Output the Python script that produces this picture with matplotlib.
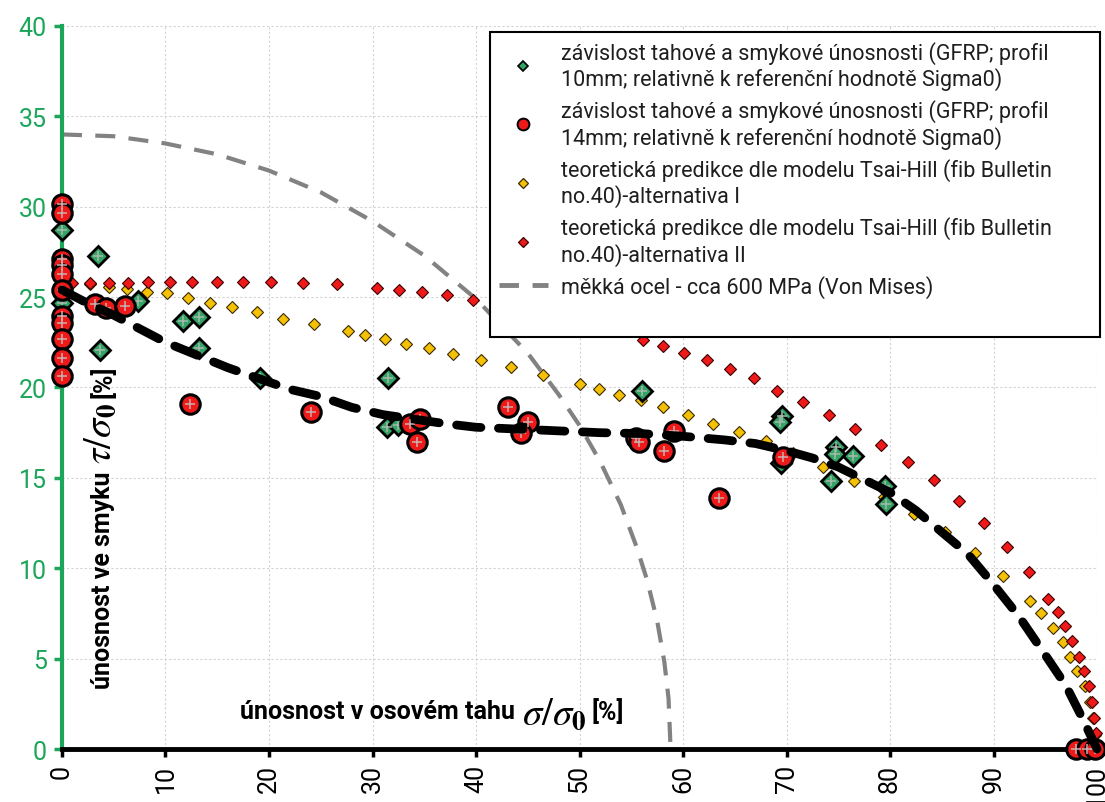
import matplotlib
matplotlib.use("Agg")
import matplotlib.pyplot as plt
from matplotlib.lines import Line2D
from matplotlib import font_manager

names = {f.name for f in font_manager.fontManager.ttflist}
narrow = "Liberation Sans Narrow" if "Liberation Sans Narrow" in names else "Roboto"
plt.rcParams["font.family"] = [narrow, "DejaVu Sans"]
plt.rcParams["mathtext.fontset"] = "stix"

# --- data ---
# GFRP profil 10 mm (green diamonds)
g10_x = [0, 0, 3.5, 3.7, 7.3, 11.7, 13.2, 13.2, 19.1, 31.5, 31.4, 32.5, 56.0,
         69.6, 69.4, 69.5, 74.8, 74.7, 76.4, 74.3, 79.5, 79.6]
g10_y = [28.7, 24.7, 27.25, 22.1, 24.8, 23.7, 23.9, 22.2, 20.5, 20.55, 17.8, 17.95, 19.8,
         18.4, 18.1, 15.85, 16.7, 16.3, 16.2, 14.85, 14.55, 13.55]

# GFRP profil 14 mm (red circles)
g14_x = [0, 0, 0, 0, 0, 0, 0, 0, 0, 0, 0,
         3.2, 4.25, 6.1, 12.4, 24.1, 33.6, 34.6, 34.3, 43.1, 45.0, 44.3,
         55.5, 55.7, 59.1, 58.2, 63.5, 69.7, 98.0, 99.0, 99.8]
g14_y = [30.15, 29.65, 27.1, 26.75, 26.3, 25.4, 23.95, 23.55, 22.7, 21.65, 20.65,
         24.6, 24.4, 24.5, 19.1, 18.65, 18.0, 18.25, 17.0, 18.9, 18.1, 17.5,
         17.2, 17.0, 17.6, 16.5, 13.9, 16.15, 0, 0, 0]

# Tsai-Hill alternativa I (yellow diamonds)
th1_x = [0, 2.7, 4.5, 6.3, 8.2, 10.1, 12.2, 14.3, 16.4, 18.8, 21.4, 24.3, 27.6, 29.3,
         31.2, 33.2, 35.5, 37.8, 40.5, 43.4, 46.5, 50.0, 51.9, 53.8, 55.9, 58.1, 60.5,
         62.9, 65.4, 68.0, 70.6, 73.5, 76.5, 79.4, 82.3, 85.3, 88.2, 90.9, 93.5, 94.6,
         95.7, 96.7, 97.4, 98.1, 98.8, 99.3, 99.6, 99.85]
th1_y = [25.8, 25.7, 25.55, 25.45, 25.3, 25.2, 24.95, 24.7, 24.45, 24.2, 23.8, 23.5, 23.1, 22.9,
         22.7, 22.4, 22.2, 21.85, 21.5, 21.15, 20.7, 20.2, 19.9, 19.6, 19.3, 18.9, 18.5,
         18.0, 17.55, 17.05, 16.4, 15.6, 14.85, 13.95, 13.0, 12.0, 10.85, 9.55, 8.2, 7.5,
         6.7, 5.9, 5.1, 4.3, 3.5, 2.6, 1.7, 0.8]

# Tsai-Hill alternativa II (small red diamonds)
th2_x = [0, 1.0, 2.7, 4.5, 6.4, 8.3, 10.4, 12.6, 15.0, 17.5, 20.2, 23.3, 26.6, 30.4, 32.6,
         34.8, 37.2, 39.7, 42.3, 45.0, 47.7, 50.0, 52.3, 56.1, 58.1, 60.1, 62.3, 64.5,
         66.9, 69.1, 71.6, 74.1, 76.6, 79.1, 81.7, 84.2, 86.7, 89.1, 91.3, 93.4, 95.3,
         96.2, 96.9, 97.6, 98.3, 98.7, 99.2, 99.5, 99.7, 99.9]
th2_y = [25.8, 25.8, 25.8, 25.8, 25.8, 25.85, 25.85, 25.85, 25.85, 25.85, 25.85, 25.8, 25.7, 25.5, 25.4,
         25.3, 25.1, 24.85, 24.6, 24.3, 23.95, 23.6, 23.2, 22.65, 22.3, 21.9, 21.5, 21.0,
         20.5, 19.8, 19.2, 18.5, 17.7, 16.8, 15.9, 14.9, 13.7, 12.5, 11.2, 9.8, 8.3,
         7.6, 6.8, 5.96, 5.1, 4.3, 3.5, 2.6, 1.7, 0.87]

# mild steel, Von Mises (grey dashed)
vm_x = [0, 5, 10, 15, 20, 25, 30, 35, 40, 45, 48, 50, 52, 54, 55.5, 56.5, 57.5, 58.2, 58.6, 58.8]
vm_y = [34.0, 33.9, 33.5, 32.9, 32.0, 30.8, 29.2, 27.3, 24.9, 21.9, 19.6, 17.9, 15.9, 13.5,
        11.2, 9.4, 7.1, 4.8, 2.8, 0]

# trend (black dashed)
tr_x = [0, 2, 5, 8, 10, 13, 16, 19, 22, 25, 28, 31, 34, 37, 40, 44, 48, 52, 56, 60,
        64, 67, 70, 72.5, 75, 77.5, 80, 82.5, 85, 87.5, 90, 92.5, 95, 97, 98.5, 100]
tr_y = [25.4, 24.8, 24.0, 23.1, 22.5, 21.8, 21.1, 20.5, 19.9, 19.5, 18.9, 18.5, 18.25, 18.0,
        17.8, 17.7, 17.6, 17.5, 17.45, 17.3, 17.1, 16.9, 16.5, 16.1, 15.6, 14.9, 14.2, 13.2,
        12.0, 10.8, 9.1, 7.3, 5.2, 3.5, 1.8, 0]

labels = [
    "závislost tahové a smykové únosnosti (GFRP; profil\n10mm; relativně k referenční hodnotě Sigma0)",
    "závislost tahové a smykové únosnosti (GFRP; profil\n14mm; relativně k referenční hodnotě Sigma0)",
    "teoretická predikce dle modelu Tsai-Hill (fib Bulletin\nno.40)-alternativa I",
    "teoretická predikce dle modelu Tsai-Hill (fib Bulletin\nno.40)-alternativa II",
    "měkká ocel - cca 600 MPa (Von Mises)",
]

GREEN_AX = "#1ca65a"
GREEN_M = "#33a366"
RED = "#ee1a1a"
YELLOW = "#f5c106"
GRAY = "#828282"

fig = plt.figure(figsize=(11.05, 8.03), dpi=100)
ax = fig.add_axes([0.0561, 0.066, 0.9367, 0.9004])

ax.plot(vm_x, vm_y, color=GRAY, lw=3, ls=(0, (4.8, 3.2)), zorder=2)
ax.plot(th1_x, th1_y, ls="none", marker="D", ms=6, mfc=YELLOW, mec="#3a2a00", mew=0.8,
        zorder=3, clip_on=False)
ax.plot(th2_x, th2_y, ls="none", marker="D", ms=6, mfc=RED, mec="#3a0000", mew=0.8,
        zorder=3.5, clip_on=False)
ax.plot(g10_x, g10_y, ls="none", marker="D", ms=10.5, mfc=GREEN_M, mec="black", mew=2,
        zorder=4, clip_on=False)
ax.plot(g10_x, g10_y, ls="none", marker="+", ms=6.5, mec="#a9b8ad", mew=1.1, zorder=4.1,
        clip_on=False)
ax.plot(g14_x, g14_y, ls="none", marker="o", ms=14, mfc=RED, mec="black", mew=2.2,
        zorder=4.5, clip_on=False)
ax.plot(g14_x, g14_y, ls="none", marker="+", ms=6.5, mec="#c9b0b0", mew=1.1, zorder=4.6,
        clip_on=False)
ax.plot(tr_x, tr_y, color="black", lw=6.3, ls=(0, (2.8, 2.0)), dash_capstyle="round",
        zorder=5, clip_on=False)

ax.set_xlim(0, 100)
ax.set_ylim(0, 40)
ax.set_xticks(range(0, 101, 10))
ax.set_yticks(range(0, 41, 5))
ax.grid(True, color="#d2d2d2", ls=(0, (2, 2)), lw=0.8)
ax.set_axisbelow(True)
ax.spines["top"].set_visible(False)
ax.spines["right"].set_visible(False)
ax.spines["left"].set_color(GREEN_AX)
ax.spines["left"].set_linewidth(3)
ax.spines["bottom"].set_color("black")
ax.spines["bottom"].set_linewidth(3.5)
ax.tick_params(axis="y", colors=GREEN_AX, length=6, width=2.5, labelsize=18, pad=5)
ax.tick_params(axis="x", colors="black", length=6, width=2.5, labelsize=18, pad=5,
               labelrotation=90)

# axis titles written inside the plot area
t1 = ax.text(17.2, 2.1, "únosnost v osovém tahu", ha="left", va="center",
             fontsize=18, weight="bold")
t2 = ax.annotate(r"$\sigma/\sigma_\mathbf{0}$", xy=(1, 0.5), xycoords=t1, xytext=(5, -2),
                 textcoords="offset points", ha="left", va="center", fontsize=28)
ax.annotate("[%]", xy=(1, 0.5), xycoords=t2, xytext=(4, 2), textcoords="offset points",
            ha="left", va="center", fontsize=18, weight="bold")

u1 = ax.text(4.0, 3.4, "únosnost ve smyku", rotation=90, ha="center", va="bottom",
             fontsize=18, weight="bold")
u2 = ax.annotate(r"$\tau/\sigma_\mathbf{0}$", xy=(0.5, 1), xycoords=u1, xytext=(-2, 5),
                 textcoords="offset points", rotation=90, ha="center", va="bottom",
                 fontsize=28)
ax.annotate("[%]", xy=(0.5, 1), xycoords=u2, xytext=(2, 4), textcoords="offset points",
            rotation=90, ha="center", va="bottom", fontsize=18, weight="bold")

handles = [
    Line2D([], [], ls="none", marker="D", ms=5.5, mfc=GREEN_M, mec="black", mew=1.2),
    Line2D([], [], ls="none", marker="o", ms=8.5, mfc=RED, mec="black", mew=1.4),
    Line2D([], [], ls="none", marker="D", ms=5.5, mfc=YELLOW, mec="#3a2a00", mew=0.9),
    Line2D([], [], ls="none", marker="D", ms=5.5, mfc=RED, mec="#3a0000", mew=0.9),
    Line2D([], [], color=GRAY, lw=3.5, ls=(0, (4, 2.8))),
    Line2D([], [], ls="none"),
]
leg = ax.legend(handles, labels + [""], loc="upper left",
                bbox_to_anchor=(0.4135, 0.9917, 0.5895, 0.0), mode="expand",
                fontsize=15.5, labelspacing=0.42, handlelength=2.3, handletextpad=0.6,
                borderpad=0.4, fancybox=False, framealpha=1, edgecolor="black",
                borderaxespad=0)
leg.get_frame().set_linewidth(1.5)
leg.set_zorder(10)
for t in leg.get_texts():
    t.set_color("#1e1e1e")

fig.savefig("out.png", dpi=100)
